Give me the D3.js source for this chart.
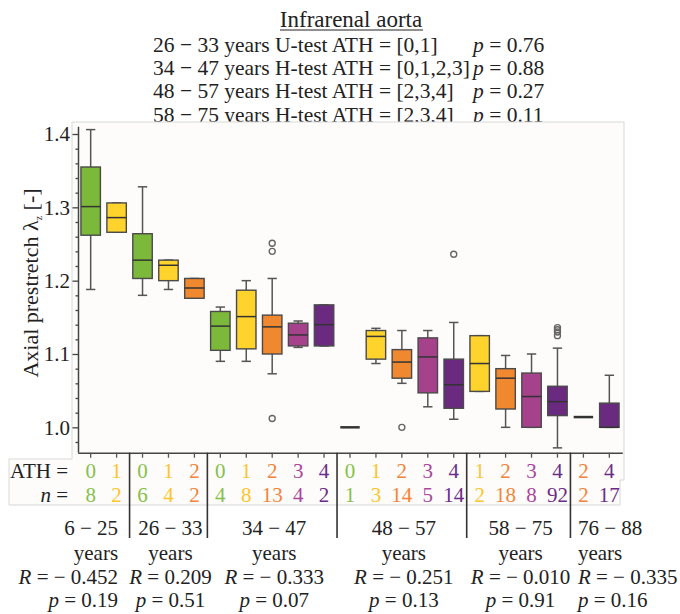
<!DOCTYPE html>
<html>
<head>
<meta charset="utf-8">
<script src="https://cdn.jsdelivr.net/npm/d3@7"></script>
<style>
  body { margin: 0; background: #fff; }
  svg, svg text { font-family: "Liberation Serif", "Times New Roman", serif; }
  svg { display: block; }
</style>
</head>
<body>
<svg id="chart"></svg>
<script>
// groups and per-box data
const ageGroups = ["6 − 25", "26 − 33", "34 − 47", "48 − 57", "58 − 75", "76 − 88"];
const groupR = ["− 0.452", "0.209", "− 0.333", "− 0.251", "− 0.010", "− 0.335"];
const groupP = ["0.19", "0.51", "0.07", "0.13", "0.91", "0.16"];

const slotGroup = [0,0, 1,1,1, 2,2,2,2,2, 3,3,3,3,3, 4,4,4,4, 5,5];
const slotAth   = [0,1, 0,1,2, 0,1,2,3,4, 0,1,2,3,4, 1,2,3,4, 2,4];
const slotN     = [8,2, 6,4,2, 4,8,13,4,2, 1,3,14,5,14, 2,18,8,92, 2,17];

const whiskerLow  = [1.188,1.266, 1.180,1.188,1.176, 1.090,1.090,1.073,1.109,1.111, 1.000,1.087,1.060,1.028,1.011, 1.049,1.000,1.000,0.972, 1.014,1.000];
const q1          = [1.262,1.266, 1.203,1.200,1.176, 1.105,1.107,1.100,1.111,1.111, 1.000,1.093,1.067,1.047,1.026, 1.049,1.025,1.000,1.016, 1.014,1.000];
const median      = [1.301,1.286, 1.228,1.221,1.190, 1.138,1.151,1.137,1.126,1.140, 1.000,1.124,1.089,1.096,1.058, 1.087,1.067,1.042,1.035, 1.014,1.000];
const q3          = [1.355,1.306, 1.264,1.228,1.203, 1.158,1.187,1.153,1.142,1.167, 1.000,1.132,1.106,1.122,1.093, 1.125,1.080,1.074,1.056, 1.014,1.033];
const whiskerHigh = [1.406,1.306, 1.328,1.228,1.203, 1.164,1.200,1.203,1.145,1.167, 1.000,1.135,1.132,1.132,1.143, 1.125,1.098,1.100,1.108, 1.014,1.071];
const outliers = {7: [1.251, 1.240, 1.012], 12: [1.000], 14: [1.236], 18: [1.136, 1.133, 1.130, 1.125]};

// stats header lines
const testLines = [
  "26 − 33 years U-test ATH = [0,1]",
  "34 − 47 years H-test ATH = [0,1,2,3]",
  "48 − 57 years H-test ATH = [2,3,4]",
  "58 − 75 years H-test ATH = [2,3,4]"
];
const testP = ["0.76", "0.88", "0.27", "0.11"];

const yMajor = [1.0, 1.1, 1.2, 1.3, 1.4];

const boxFill  = ["#7cb93a", "#fed32c", "#f0882f", "#a6418c", "#6a2a80"];
const textFill = ["#86c14c", "#fbc52e", "#f2843a", "#aa469c", "#6b2c88"];

const FONT = '"Liberation Serif", "Times New Roman", serif';
const W = 680, H = 614;
const svg = d3.select('#chart').attr('width', W).attr('height', H);
svg.append('rect').attr('width', W).attr('height', H).attr('fill', '#fff');

// Title + test lines
svg.append('text')
  .attr('x', 351).attr('y', 27)
  .attr('text-anchor', 'middle')
  .attr('font-size', 23)
  .attr('fill', '#222')
  .text('Infrarenal aorta');
svg.append('line')
  .attr('x1', 280).attr('x2', 423).attr('y1', 30).attr('y2', 30)
  .attr('stroke', '#222').attr('stroke-width', 1);

testLines.forEach((t, i) => {
  const y = 52 + i * 23.2;
  const left = svg.append('text')
    .attr('x', 153).attr('y', y)
    .attr('font-size', 21.5).attr('fill', '#222')
    .text(t);
  const end = 153 + left.node().getComputedTextLength();
  const pt = svg.append('text')
    .attr('x', Math.max(473, end + 3)).attr('y', y)
    .attr('font-size', 21.5).attr('fill', '#222');
  pt.append('tspan').attr('font-style', 'italic').text('p');
  pt.append('tspan').text(' = ' + testP[i]);
});

// panel + table outline (drawn over the last header line like the original)
svg.append('path')
  .attr('d', 'M72,122 H624 V480 H620 V505 H9 V459 H72 Z')
  .attr('fill', '#fdfcfa')
  .attr('stroke', '#d8d8d8')
  .attr('stroke-width', 1);

// scales
const x = d3.scaleBand()
  .domain(d3.range(slotN.length))
  .range([77.7, 622.3])
  .paddingInner(0.25)
  .paddingOuter(0.125);
const step = x.step();
const cx = i => x(i) + x.bandwidth() / 2;

const y = d3.scaleLinear()
  .domain([0.9654, 1.4191])
  .range([452.7, 120]);

// y axis
const yAxis = svg.append('g').attr('transform', 'translate(78.5,0)');
yAxis.call(d3.axisLeft(y).tickValues(yMajor).tickSize(6).tickSizeOuter(0).tickPadding(2.5)
  .tickFormat(d3.format('.1f')));
yAxis.select('.domain').remove();
const yMinor = svg.append('g').attr('transform', 'translate(78.5,0)');
yMinor.call(d3.axisLeft(y)
  .tickValues(d3.range(49, 71).map(k => k * 0.02).filter(v => !yMajor.some(m => Math.abs(m - v) < 1e-6)))
  .tickSize(3).tickFormat(''));
yMinor.select('.domain').remove();
[yAxis, yMinor].forEach(g => {
  g.attr('font-family', FONT).style('font-family', FONT);
  g.selectAll('line').attr('stroke', '#444').attr('stroke-width', 1.3);
  g.selectAll('text').attr('font-size', 21).attr('fill', '#222').style('font-family', FONT);
});
svg.append('line')
  .attr('x1', 78.5).attr('x2', 78.5)
  .attr('y1', y(1.41)).attr('y2', y.range()[0])
  .attr('stroke', '#444').attr('stroke-width', 1.5);

// x axis
const xAxis = svg.append('g').attr('transform', `translate(0,${y.range()[0]})`);
xAxis.call(d3.axisBottom(x).tickSize(5).tickSizeOuter(0).tickFormat(''));
xAxis.select('.domain').attr('stroke', '#444').attr('stroke-width', 1.5);
xAxis.selectAll('line').attr('stroke', '#555').attr('stroke-width', 1.3);

// y label
const yl = svg.append('text')
  .attr('transform', 'translate(38,283) rotate(-90)')
  .attr('text-anchor', 'middle')
  .attr('font-size', 22).attr('fill', '#222');
yl.append('tspan').text('Axial prestretch λ');
yl.append('tspan').attr('font-size', 10).attr('dy', 4).text('z');
yl.append('tspan').attr('dy', -4).text(' [-]');

// boxes
const boxes = svg.append('g');
slotN.forEach((n, i) => {
  const c = cx(i), bw = x.bandwidth(), cap = bw * 0.48;
  const g = boxes.append('g');
  const wc = '#555';
  if (whiskerHigh[i] > q3[i] || whiskerLow[i] < q1[i] || q3[i] > q1[i]) {
    g.append('line').attr('x1', c).attr('x2', c)
      .attr('y1', y(whiskerHigh[i])).attr('y2', y(whiskerLow[i]))
      .attr('stroke', wc).attr('stroke-width', 1.5);
    [whiskerHigh[i], whiskerLow[i]].forEach(v => {
      g.append('line').attr('x1', c - cap / 2).attr('x2', c + cap / 2)
        .attr('y1', y(v)).attr('y2', y(v))
        .attr('stroke', wc).attr('stroke-width', 1.5);
    });
    g.append('rect')
      .attr('x', x(i)).attr('width', bw)
      .attr('y', y(q3[i])).attr('height', y(q1[i]) - y(q3[i]))
      .attr('fill', boxFill[slotAth[i]])
      .attr('stroke', '#4a4a4a').attr('stroke-width', 1.4);
  }
  g.append('line').attr('x1', x(i)).attr('x2', x(i) + bw)
    .attr('y1', y(median[i])).attr('y2', y(median[i]))
    .attr('stroke', '#333').attr('stroke-width', q3[i] > q1[i] ? 1.5 : 2.5);
  (outliers[i] || []).forEach(v => {
    g.append('circle').attr('cx', c).attr('cy', y(v)).attr('r', 3)
      .attr('fill', 'none').attr('stroke', '#666').attr('stroke-width', 1.4);
  });
});

// table
const tableRows = [478, 502];
svg.append('text').attr('x', 68).attr('y', tableRows[0]).attr('text-anchor', 'end')
  .attr('font-size', 21).attr('fill', '#222').text('ATH =');
const nLab = svg.append('text').attr('x', 68).attr('y', tableRows[1]).attr('text-anchor', 'end')
  .attr('font-size', 21).attr('fill', '#222');
nLab.append('tspan').attr('font-style', 'italic').text('n');
nLab.append('tspan').text(' =');
slotN.forEach((n, i) => {
  svg.append('text').attr('x', cx(i)).attr('y', tableRows[0]).attr('text-anchor', 'middle')
    .attr('font-size', 21).attr('fill', textFill[slotAth[i]]).text(slotAth[i]);
  svg.append('text').attr('x', cx(i)).attr('y', tableRows[1]).attr('text-anchor', 'middle')
    .attr('font-size', 21).attr('fill', textFill[slotAth[i]]).text(n);
});

// group separators and labels
const labelRows = [535, 560, 584, 607];
ageGroups.forEach((name, gi) => {
  const slots = d3.range(slotN.length).filter(i => slotGroup[i] === gi);
  const first = slots[0], last = slots[slots.length - 1];
  if (gi > 0) {
    const sx = x(first) - step * x.paddingInner() / 2;
    svg.append('line').attr('x1', sx).attr('x2', sx)
      .attr('y1', y.range()[0]).attr('y2', 538)
      .attr('stroke', '#333').attr('stroke-width', 1.6);
  }
  let anchor = 'middle', ax = (cx(first) + cx(last)) / 2 + 2;
  if (gi === 0) { anchor = 'end'; ax = cx(last) + 1.5; }
  if (gi === ageGroups.length - 1) { anchor = 'start'; ax = cx(first) - 5.5; }
  const lab = (row) => svg.append('text').attr('x', ax).attr('y', labelRows[row])
    .attr('text-anchor', anchor).attr('font-size', 21).attr('fill', '#222');
  lab(0).text(name);
  lab(1).text('years');
  const r = lab(2);
  r.append('tspan').attr('font-style', 'italic').text('R');
  r.append('tspan').text(' = ' + groupR[gi]);
  const p = lab(3);
  p.append('tspan').attr('font-style', 'italic').text('p');
  p.append('tspan').text(' = ' + groupP[gi]);
});
</script>
</body>
</html>
